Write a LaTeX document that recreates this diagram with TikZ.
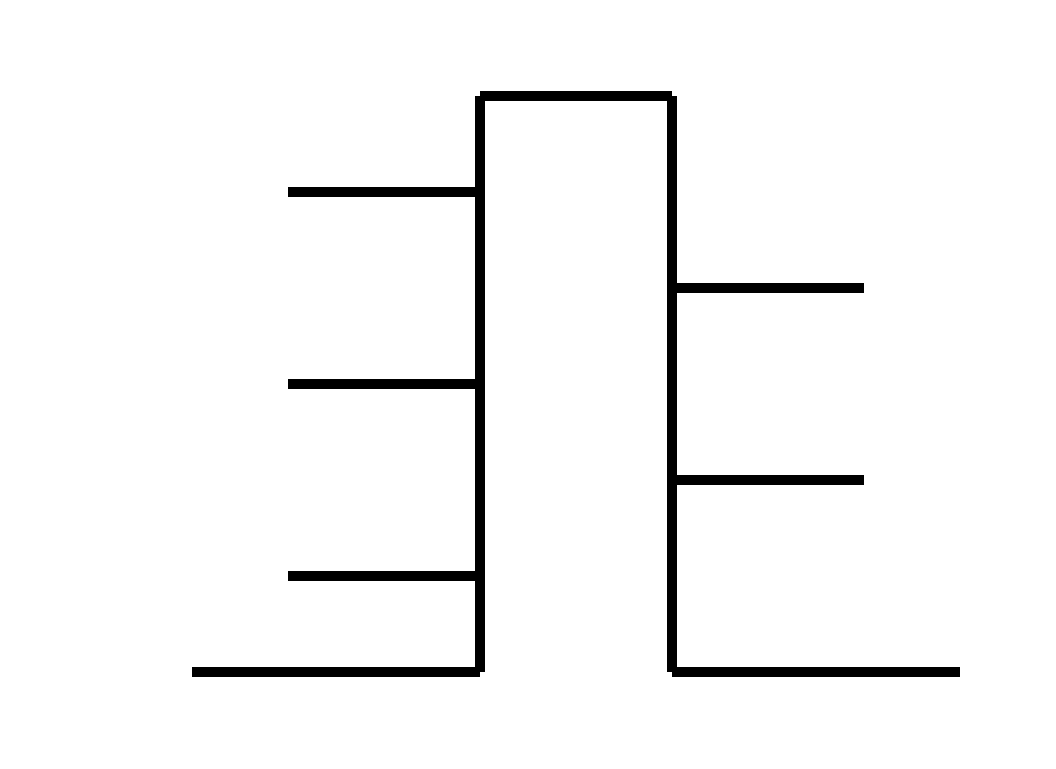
\documentclass[tikz,border=0pt]{standalone}
\begin{document}
\begin{tikzpicture}[x=1pt,y=-1pt,seg/.style={line width=10pt,line cap=butt,black}]
\useasboundingbox[fill=white] (0,0) rectangle (1056,768);
% top and sides
\draw[seg] (480,96) -- (672,96);
\draw[seg] (480,96) -- (480,672);
\draw[seg] (672,96) -- (672,672);
% base lines
\draw[seg] (192,672) -- (480,672);
\draw[seg] (672,672) -- (960,672);
% left ticks
\draw[seg] (288,192) -- (480,192);
\draw[seg] (288,384) -- (480,384);
\draw[seg] (288,576) -- (480,576);
% right ticks
\draw[seg] (672,288) -- (864,288);
\draw[seg] (672,480) -- (864,480);
\end{tikzpicture}
\end{document}
